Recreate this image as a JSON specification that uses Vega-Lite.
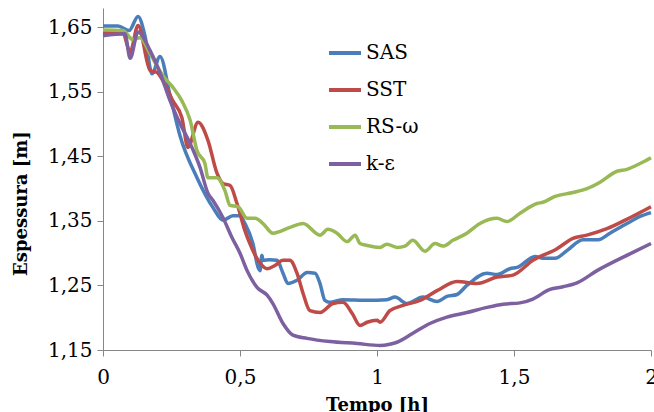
{
  "$schema": "https://vega.github.io/schema/vega-lite/v6.json",
  "width": 548,
  "height": 342,
  "autosize": "none",
  "padding": {"left": 103, "top": 8, "right": 3, "bottom": 62},
  "background": "white",
  "config": {"view": {"stroke": null}, "font": "DejaVu Serif"},
  "data": {"values": [
    {"m":"SAS","t":0,"v":1.652},{"m":"SAS","t":0.055,"v":1.652},{"m":"SAS","t":0.095,"v":1.645},{"m":"SAS","t":0.128,"v":1.667},{"m":"SAS","t":0.153,"v":1.637},{"m":"SAS","t":0.179,"v":1.578},{"m":"SAS","t":0.208,"v":1.605},{"m":"SAS","t":0.245,"v":1.544},{"m":"SAS","t":0.281,"v":1.482},{"m":"SAS","t":0.343,"v":1.417},{"m":"SAS","t":0.401,"v":1.371},{"m":"SAS","t":0.438,"v":1.351},{"m":"SAS","t":0.474,"v":1.358},{"m":"SAS","t":0.5,"v":1.358},{"m":"SAS","t":0.518,"v":1.346},{"m":"SAS","t":0.547,"v":1.315},{"m":"SAS","t":0.566,"v":1.278},{"m":"SAS","t":0.573,"v":1.273},{"m":"SAS","t":0.58,"v":1.297},{"m":"SAS","t":0.584,"v":1.289},{"m":"SAS","t":0.609,"v":1.29},{"m":"SAS","t":0.635,"v":1.289},{"m":"SAS","t":0.657,"v":1.269},{"m":"SAS","t":0.675,"v":1.253},{"m":"SAS","t":0.708,"v":1.258},{"m":"SAS","t":0.745,"v":1.27},{"m":"SAS","t":0.774,"v":1.269},{"m":"SAS","t":0.792,"v":1.253},{"m":"SAS","t":0.81,"v":1.227},{"m":"SAS","t":0.828,"v":1.224},{"m":"SAS","t":0.876,"v":1.228},{"m":"SAS","t":0.964,"v":1.227},{"m":"SAS","t":1.036,"v":1.228},{"m":"SAS","t":1.066,"v":1.232},{"m":"SAS","t":1.109,"v":1.222},{"m":"SAS","t":1.168,"v":1.232},{"m":"SAS","t":1.219,"v":1.225},{"m":"SAS","t":1.255,"v":1.233},{"m":"SAS","t":1.292,"v":1.236},{"m":"SAS","t":1.328,"v":1.25},{"m":"SAS","t":1.401,"v":1.269},{"m":"SAS","t":1.438,"v":1.267},{"m":"SAS","t":1.485,"v":1.276},{"m":"SAS","t":1.511,"v":1.278},{"m":"SAS","t":1.577,"v":1.295},{"m":"SAS","t":1.606,"v":1.292},{"m":"SAS","t":1.65,"v":1.292},{"m":"SAS","t":1.693,"v":1.304},{"m":"SAS","t":1.752,"v":1.321},{"m":"SAS","t":1.807,"v":1.321},{"m":"SAS","t":1.85,"v":1.331},{"m":"SAS","t":1.912,"v":1.346},{"m":"SAS","t":1.96,"v":1.357},{"m":"SAS","t":2,"v":1.363},
    {"m":"SST","t":0,"v":1.642},{"m":"SST","t":0.073,"v":1.64},{"m":"SST","t":0.099,"v":1.612},{"m":"SST","t":0.128,"v":1.653},{"m":"SST","t":0.172,"v":1.583},{"m":"SST","t":0.197,"v":1.58},{"m":"SST","t":0.219,"v":1.567},{"m":"SST","t":0.255,"v":1.536},{"m":"SST","t":0.288,"v":1.51},{"m":"SST","t":0.31,"v":1.464},{"m":"SST","t":0.347,"v":1.503},{"m":"SST","t":0.383,"v":1.475},{"m":"SST","t":0.416,"v":1.424},{"m":"SST","t":0.438,"v":1.408},{"m":"SST","t":0.464,"v":1.405},{"m":"SST","t":0.489,"v":1.377},{"m":"SST","t":0.518,"v":1.335},{"m":"SST","t":0.536,"v":1.315},{"m":"SST","t":0.566,"v":1.289},{"m":"SST","t":0.599,"v":1.276},{"m":"SST","t":0.628,"v":1.281},{"m":"SST","t":0.657,"v":1.289},{"m":"SST","t":0.682,"v":1.289},{"m":"SST","t":0.708,"v":1.269},{"m":"SST","t":0.73,"v":1.238},{"m":"SST","t":0.755,"v":1.211},{"m":"SST","t":0.792,"v":1.208},{"m":"SST","t":0.839,"v":1.222},{"m":"SST","t":0.876,"v":1.224},{"m":"SST","t":0.909,"v":1.207},{"m":"SST","t":0.938,"v":1.188},{"m":"SST","t":0.964,"v":1.193},{"m":"SST","t":1.0,"v":1.196},{"m":"SST","t":1.011,"v":1.193},{"m":"SST","t":1.047,"v":1.211},{"m":"SST","t":1.095,"v":1.219},{"m":"SST","t":1.157,"v":1.227},{"m":"SST","t":1.219,"v":1.242},{"m":"SST","t":1.292,"v":1.256},{"m":"SST","t":1.365,"v":1.253},{"m":"SST","t":1.438,"v":1.263},{"m":"SST","t":1.496,"v":1.266},{"m":"SST","t":1.569,"v":1.289},{"m":"SST","t":1.657,"v":1.307},{"m":"SST","t":1.715,"v":1.323},{"m":"SST","t":1.766,"v":1.328},{"m":"SST","t":1.839,"v":1.338},{"m":"SST","t":1.923,"v":1.355},{"m":"SST","t":2,"v":1.372},
    {"m":"RS-ω","t":0,"v":1.646},{"m":"RS-ω","t":0.073,"v":1.645},{"m":"RS-ω","t":0.109,"v":1.631},{"m":"RS-ω","t":0.135,"v":1.634},{"m":"RS-ω","t":0.172,"v":1.609},{"m":"RS-ω","t":0.219,"v":1.575},{"m":"RS-ω","t":0.255,"v":1.557},{"m":"RS-ω","t":0.288,"v":1.536},{"m":"RS-ω","t":0.318,"v":1.506},{"m":"RS-ω","t":0.343,"v":1.459},{"m":"RS-ω","t":0.372,"v":1.439},{"m":"RS-ω","t":0.383,"v":1.417},{"m":"RS-ω","t":0.416,"v":1.417},{"m":"RS-ω","t":0.445,"v":1.397},{"m":"RS-ω","t":0.464,"v":1.374},{"m":"RS-ω","t":0.493,"v":1.372},{"m":"RS-ω","t":0.526,"v":1.354},{"m":"RS-ω","t":0.555,"v":1.354},{"m":"RS-ω","t":0.584,"v":1.346},{"m":"RS-ω","t":0.62,"v":1.331},{"m":"RS-ω","t":0.682,"v":1.34},{"m":"RS-ω","t":0.73,"v":1.346},{"m":"RS-ω","t":0.792,"v":1.328},{"m":"RS-ω","t":0.821,"v":1.337},{"m":"RS-ω","t":0.854,"v":1.331},{"m":"RS-ω","t":0.891,"v":1.318},{"m":"RS-ω","t":0.92,"v":1.328},{"m":"RS-ω","t":0.938,"v":1.315},{"m":"RS-ω","t":0.964,"v":1.312},{"m":"RS-ω","t":1.011,"v":1.309},{"m":"RS-ω","t":1.036,"v":1.314},{"m":"RS-ω","t":1.073,"v":1.309},{"m":"RS-ω","t":1.102,"v":1.311},{"m":"RS-ω","t":1.131,"v":1.32},{"m":"RS-ω","t":1.175,"v":1.303},{"m":"RS-ω","t":1.212,"v":1.315},{"m":"RS-ω","t":1.241,"v":1.311},{"m":"RS-ω","t":1.277,"v":1.32},{"m":"RS-ω","t":1.328,"v":1.331},{"m":"RS-ω","t":1.376,"v":1.346},{"m":"RS-ω","t":1.438,"v":1.354},{"m":"RS-ω","t":1.474,"v":1.349},{"m":"RS-ω","t":1.522,"v":1.362},{"m":"RS-ω","t":1.584,"v":1.377},{"m":"RS-ω","t":1.606,"v":1.379},{"m":"RS-ω","t":1.65,"v":1.388},{"m":"RS-ω","t":1.715,"v":1.394},{"m":"RS-ω","t":1.766,"v":1.4},{"m":"RS-ω","t":1.814,"v":1.41},{"m":"RS-ω","t":1.876,"v":1.427},{"m":"RS-ω","t":1.912,"v":1.43},{"m":"RS-ω","t":1.96,"v":1.439},{"m":"RS-ω","t":2,"v":1.448},
    {"m":"k-ε","t":0,"v":1.637},{"m":"k-ε","t":0.08,"v":1.64},{"m":"k-ε","t":0.099,"v":1.602},{"m":"k-ε","t":0.128,"v":1.643},{"m":"k-ε","t":0.172,"v":1.614},{"m":"k-ε","t":0.208,"v":1.58},{"m":"k-ε","t":0.245,"v":1.536},{"m":"k-ε","t":0.281,"v":1.501},{"m":"k-ε","t":0.318,"v":1.47},{"m":"k-ε","t":0.354,"v":1.433},{"m":"k-ε","t":0.383,"v":1.393},{"m":"k-ε","t":0.401,"v":1.382},{"m":"k-ε","t":0.438,"v":1.355},{"m":"k-ε","t":0.471,"v":1.324},{"m":"k-ε","t":0.5,"v":1.3},{"m":"k-ε","t":0.526,"v":1.273},{"m":"k-ε","t":0.562,"v":1.247},{"m":"k-ε","t":0.599,"v":1.235},{"m":"k-ε","t":0.62,"v":1.222},{"m":"k-ε","t":0.657,"v":1.191},{"m":"k-ε","t":0.693,"v":1.173},{"m":"k-ε","t":0.745,"v":1.168},{"m":"k-ε","t":0.828,"v":1.163},{"m":"k-ε","t":0.927,"v":1.16},{"m":"k-ε","t":1.011,"v":1.157},{"m":"k-ε","t":1.047,"v":1.159},{"m":"k-ε","t":1.073,"v":1.162},{"m":"k-ε","t":1.131,"v":1.176},{"m":"k-ε","t":1.193,"v":1.191},{"m":"k-ε","t":1.255,"v":1.201},{"m":"k-ε","t":1.328,"v":1.208},{"m":"k-ε","t":1.401,"v":1.216},{"m":"k-ε","t":1.46,"v":1.221},{"m":"k-ε","t":1.522,"v":1.223},{"m":"k-ε","t":1.569,"v":1.229},{"m":"k-ε","t":1.631,"v":1.244},{"m":"k-ε","t":1.679,"v":1.248},{"m":"k-ε","t":1.73,"v":1.254},{"m":"k-ε","t":1.803,"v":1.273},{"m":"k-ε","t":1.923,"v":1.299},{"m":"k-ε","t":2,"v":1.315}
  ]},
  "mark": {"type": "line", "interpolate": "monotone", "strokeWidth": 3.5},
  "encoding": {
    "x": {
      "field": "t", "type": "quantitative",
      "scale": {"domain": [0, 2], "nice": false, "zero": false},
      "axis": {
        "values": [0, 0.5, 1, 1.5, 2],
        "labelExpr": "replace(format(datum.value, '~g'), '.', ',')",
        "grid": false, "domainColor": "#868686", "tickColor": "#868686", "tickSize": 6,
        "labelFont": "DejaVu Serif", "labelFontSize": 20, "labelColor": "black", "labelPadding": 11,
        "labelFlush": false, "labelOverlap": false,
        "title": "Tempo [h]", "titleFont": "DejaVu Serif", "titleFontSize": 18, "titleFontWeight": "bold",
        "titleColor": "black", "titleBaseline": "alphabetic", "titleY": 60, "titleX": 274
      }
    },
    "y": {
      "field": "v", "type": "quantitative",
      "scale": {"domain": [1.15, 1.68], "nice": false, "zero": false},
      "axis": {
        "values": [1.15, 1.25, 1.35, 1.45, 1.55, 1.65],
        "labelExpr": "replace(format(datum.value, '.2f'), '.', ',')",
        "grid": false, "domainColor": "#868686", "tickColor": "#868686", "tickSize": 6,
        "labelFont": "DejaVu Serif", "labelFontSize": 20, "labelColor": "black", "labelPadding": 5,
        "labelFlush": false, "labelOverlap": false,
        "title": "Espessura [m]", "titleFont": "DejaVu Serif", "titleFontSize": 18, "titleFontWeight": "bold",
        "titleColor": "black", "titleAngle": -90, "titleBaseline": "alphabetic", "titleAlign": "center",
        "titleX": -77, "titleY": 195
      }
    },
    "color": {
      "field": "m", "type": "nominal",
      "scale": {"domain": ["SAS", "SST", "RS-ω", "k-ε"], "range": ["#4A7EBB", "#BE4B48", "#98B954", "#7D60A0"]},
      "legend": {
        "title": null, "orient": "none", "legendX": 224, "legendY": 27, "padding": 0,
        "symbolType": "stroke", "symbolSize": 1024, "symbolStrokeWidth": 4,
        "labelFont": "DejaVu Serif", "labelFontSize": 20, "labelColor": "black",
        "rowPadding": 9, "labelOffset": 3, "labelLimit": 200
      }
    }
  }
}
